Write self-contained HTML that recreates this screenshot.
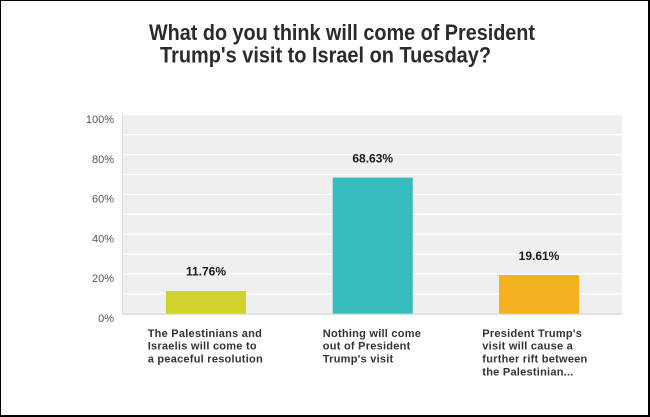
<!DOCTYPE html>
<html>
<head>
<meta charset="utf-8">
<style>
  html, body { margin: 0; padding: 0; background: #fff; }
  body { width: 650px; height: 417px; overflow: hidden; }
  svg { display: block; }
  text { font-family: "Liberation Sans", Arial, sans-serif; }
</style>
</head>
<body>
<svg width="650" height="417" viewBox="0 0 650 417" xmlns="http://www.w3.org/2000/svg">
  <!-- outer border -->
  <rect x="0" y="0" width="650" height="417" fill="#fff"/>
  <rect x="0" y="0" width="650" height="1" fill="#000"/>
  <rect x="0" y="0" width="1" height="417" fill="#000"/>
  <rect x="648" y="0" width="2" height="417" fill="#000"/>
  <rect x="0" y="415" width="650" height="2" fill="#000"/>

  <!-- title -->
  <text x="149" y="40" font-size="22" font-weight="bold" fill="#2b2b2b" textLength="386" lengthAdjust="spacingAndGlyphs">What do you think will come of President</text>
  <text x="160" y="62.5" font-size="22" font-weight="bold" fill="#2b2b2b" textLength="331" lengthAdjust="spacingAndGlyphs">Trump's visit to Israel on Tuesday?</text>

  <!-- plot area -->
  <rect x="122" y="115" width="500" height="199" fill="#efefef"/>
  <g fill="#ffffff">
    <rect x="123" y="134.1" width="499" height="1.2"/>
    <rect x="123" y="154" width="499" height="1.2"/>
    <rect x="123" y="173.9" width="499" height="1.2"/>
    <rect x="123" y="193.8" width="499" height="1.2"/>
    <rect x="123" y="213.7" width="499" height="1.2"/>
    <rect x="123" y="233.6" width="499" height="1.2"/>
    <rect x="123" y="253.5" width="499" height="1.2"/>
    <rect x="123" y="273.4" width="499" height="1.2"/>
    <rect x="123" y="293.3" width="499" height="1.2"/>
  </g>
  <rect x="122" y="115" width="1" height="200" fill="#dcdcdc"/>
  <rect x="122" y="313.5" width="500" height="1.2" fill="#d6d6d6"/>

  <!-- y axis labels -->
  <g font-size="11" fill="#555" text-anchor="end">
    <text x="114" y="123">100%</text>
    <text x="114" y="163">80%</text>
    <text x="114" y="202.6">60%</text>
    <text x="114" y="242.4">40%</text>
    <text x="114" y="282.2">20%</text>
    <text x="114" y="322">0%</text>
  </g>

  <!-- bars -->
  <rect x="166" y="291" width="80" height="22.6" fill="#cfd22a"/>
  <rect x="332.7" y="177.6" width="80" height="136" fill="#36bebe"/>
  <rect x="499" y="275" width="80" height="38.6" fill="#f6b121"/>

  <!-- value labels -->
  <g font-size="12" font-weight="bold" fill="#1a1a1a" text-anchor="middle">
    <text x="206" y="275.3">11.76%</text>
    <text x="372.7" y="162.3">68.63%</text>
    <text x="539" y="260">19.61%</text>
  </g>

  <!-- category labels -->
  <g font-size="11" font-weight="bold" fill="#333" letter-spacing="0.25">
    <text x="147.7" y="337">The Palestinians and</text>
    <text x="147.7" y="349.7">Israelis will come to</text>
    <text x="147.7" y="362.4">a peaceful resolution</text>

    <text x="322.8" y="337">Nothing will come</text>
    <text x="322.8" y="349.7">out of President</text>
    <text x="322.8" y="362.4">Trump's visit</text>

    <text x="482.3" y="337">President Trump's</text>
    <text x="482.3" y="349.7">visit will cause a</text>
    <text x="482.3" y="362.4">further rift between</text>
    <text x="482.3" y="375.3">the Palestinian...</text>
  </g>
</svg>
</body>
</html>
